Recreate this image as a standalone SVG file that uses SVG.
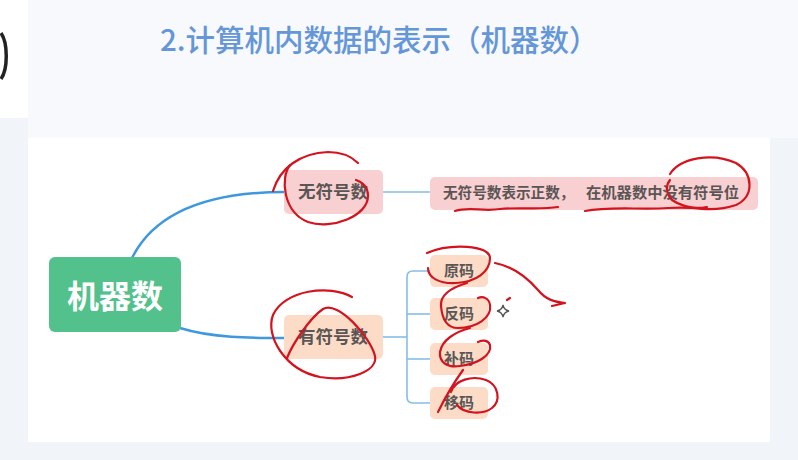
<svg xmlns="http://www.w3.org/2000/svg" width="798" height="460" viewBox="0 0 798 460">
<defs>
<style>
.cjk{font-family:"Noto Sans CJK SC","Noto Sans",sans-serif}
.lbl{font-family:"Noto Sans CJK SC","Noto Sans",sans-serif;font-weight:700;fill:#5b5656;text-anchor:middle}
.main{fill:none;stroke:#3f98dd;stroke-width:2.5}
.thin{fill:none;stroke:#86bde6;stroke-width:1.6}
.pink{fill:#f9d0d1}
.peach{fill:#fcdcc6}
.ink{fill:none;stroke:#d3141e;stroke-width:2.2;stroke-linecap:round;stroke-linejoin:round}
</style>
</defs>
<rect width="798" height="460" fill="#f1f4f9"/>
<rect x="28" y="0" width="770" height="138" fill="#f7f9fc"/>
<rect x="0" y="0" width="28" height="118" fill="#ffffff"/>
<path d="M1,33 C8,43 8,69 1,79" fill="none" stroke="#222" stroke-width="3.5"/>
<rect x="28" y="138" width="742" height="304" fill="#ffffff"/>
<text class="cjk" x="160" y="51" font-size="29.5" font-weight="500" fill="#6496d8">2.计算机内数据的表示（机器数）</text>

<g id="connectors">
<path class="main" d="M132,258 C155,212 210,192 285,192"/>
<path class="main" d="M180,328 C212,338 250,338 285,338"/>
<path class="thin" d="M383,192 L430,192"/>
<path class="thin" d="M383,337 L407,337"/>
<path class="thin" d="M430,271 L413,271 Q407,271 407,277 L407,397 Q407,403 413,403 L430,403"/>
<path class="thin" d="M407,314 L430,314"/>
<path class="thin" d="M407,359 L430,359"/>
</g>

<g id="node-jiqishu">
<rect x="49" y="257" width="132" height="75" rx="6" fill="#53c18b"/>
<text class="cjk" x="115" y="308" font-size="32" font-weight="700" fill="#ffffff" text-anchor="middle">机器数</text>
</g>
<g id="node-wufuhao">
<rect class="pink" x="284" y="170" width="99" height="44" rx="5"/>
<text class="lbl" x="333" y="198" font-size="17.5">无符号数</text>
</g>
<g id="node-desc">
<rect class="pink" x="430" y="177" width="328" height="33" rx="5"/>
<text class="cjk" x="443" y="198" font-size="14.6" font-weight="700" fill="#5b5656">无符号数表示正数，</text>
<text class="cjk" x="586" y="198" font-size="15.3" font-weight="700" fill="#5b5656">在机器数中没有符号位</text>
</g>
<g id="node-youfuhao">
<rect class="peach" x="284" y="315" width="99" height="44" rx="5"/>
<text class="lbl" x="333" y="343" font-size="17.5">有符号数</text>
</g>
<g id="node-yuanma">
<rect class="peach" x="430" y="255" width="58" height="32" rx="5"/>
<text class="lbl" x="459" y="276" font-size="15">原码</text>
</g>
<g id="node-fanma">
<rect class="peach" x="430" y="298" width="58" height="32" rx="5"/>
<text class="lbl" x="459" y="319" font-size="15">反码</text>
</g>
<g id="node-buma">
<rect class="peach" x="430" y="343" width="58" height="32" rx="5"/>
<text class="lbl" x="459" y="364" font-size="15">补码</text>
</g>
<g id="node-yima">
<rect class="peach" x="430" y="387" width="58" height="32" rx="5"/>
<text class="lbl" x="459" y="408" font-size="15">移码</text>
</g>

<g id="annotations">
<path class="ink" d="M273,191 C280,168 300,153 328,152 C342,152 352,157 358,163"/>
<path class="ink" d="M290,165 C280,178 283,212 308,222 C332,230 368,216 368,196 C368,186 362,182 356,180"/>
<path class="ink" d="M352,297 C330,284 284,290 273,315 C265,336 285,370 320,377 C350,382 378,371 375,356 C371,338 338,300 323,309 C310,318 293,343 287,358"/>
<path class="ink" d="M455,211 C470,206 482,212 500,209 C520,207 540,210 558,207"/>
<path class="ink" d="M585,211 C610,206 640,210 668,208 C688,207 700,209 707,207"/>
<path class="ink" d="M670,174 C680,158 712,152 736,163 C753,173 755,196 736,205 C716,212 686,210 672,200 C665,193 666,185 670,180"/>
<path class="ink" d="M427,253 C450,243 490,245 490,258 C490,272 476,282 456,283 C440,284 428,278 428,268"/>
<path class="ink" d="M467,283 C450,288 440,295 441,306 C442,318 446,328 458,328 C476,328 492,318 490,305 C489,298 483,296 478,298"/>
<path class="ink" d="M470,328 C455,332 442,340 440,352 C439,362 447,368 460,366 C478,364 492,355 490,345 C488,340 483,340 478,342"/>
<path class="ink" d="M463,370 C455,381 446,396 438,412"/>
<path class="ink" d="M451,392 C455,380 472,375 486,380 C499,385 501,401 492,408 C483,415 464,414 457,405"/>
<path class="ink" d="M495,263 C510,266 525,275 538,290 C546,300 555,302 565,303 L552,306"/>
<path class="ink" d="M507,300 L510,298" stroke-width="1.8"/>
<path d="M503,305 Q504,310 509,311 Q504,312 503,317 Q502,312 497,311 Q502,310 503,305 Z" fill="none" stroke="#555" stroke-width="1.3"/>
</g>
</svg>
